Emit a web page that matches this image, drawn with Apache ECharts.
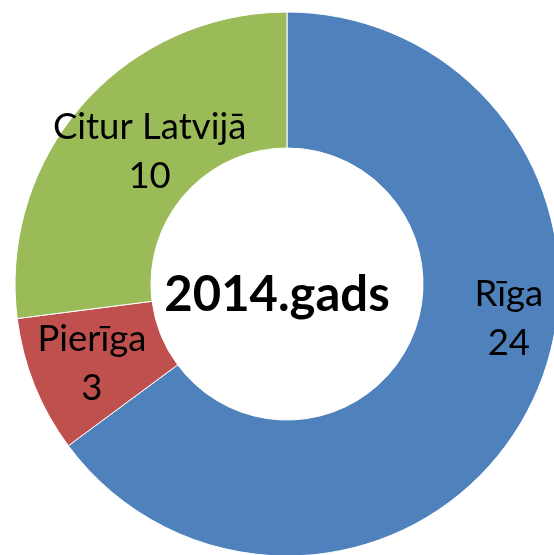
<!DOCTYPE html>
<html>
<head>
<meta charset="utf-8">
<script src="https://cdn.jsdelivr.net/npm/echarts@6/dist/echarts.min.js"></script>
<style>
  html, body { margin: 0; padding: 0; background: #fff; }
  #chart { width: 554px; height: 555px; }
</style>
</head>
<body>
<div id="chart"></div>
<script>
// dati
const regions = ['Rīga', 'Pierīga', 'Citur Latvijā']
const counts = [24, 3, 10]
const colors = ['#4F81BD', '#C0504D', '#9BBB59']
const centerTitle = '2014.gads'

// etiķešu nobīdes (Excel novieto tās savādāk nekā ECharts)
const labelShift = [
  { dx: 37, dy: -58 },
  { dx: -3, dy: 3 },
  { dx: 18, dy: 4 }
]

const chart = echarts.init(document.getElementById('chart'))
chart.setOption({
  animation: false,
  graphic: [{
    type: 'text',
    left: 'center',
    top: 271,
    style: {
      text: centerTitle,
      font: 'bold 49px Lato',
      fill: '#000'
    }
  }],
  series: [{
    type: 'pie',
    center: [287, 284],
    radius: [136, 272],
    startAngle: 90,
    clockwise: true,
    data: regions.map((r, i) => ({
      name: r,
      value: counts[i],
      itemStyle: { color: colors[i] }
    })),
    itemStyle: { borderColor: '#fff', borderWidth: 1 },
    label: {
      show: true,
      position: 'inside',
      formatter: '{b}\n{c}',
      fontFamily: 'Lato',
      fontSize: 36.5,
      lineHeight: 49,
      color: '#000'
    },
    labelLayout: params => labelShift[params.dataIndex],
    labelLine: { show: false },
    emphasis: { disabled: true }
  }]
})
</script>
</body>
</html>
